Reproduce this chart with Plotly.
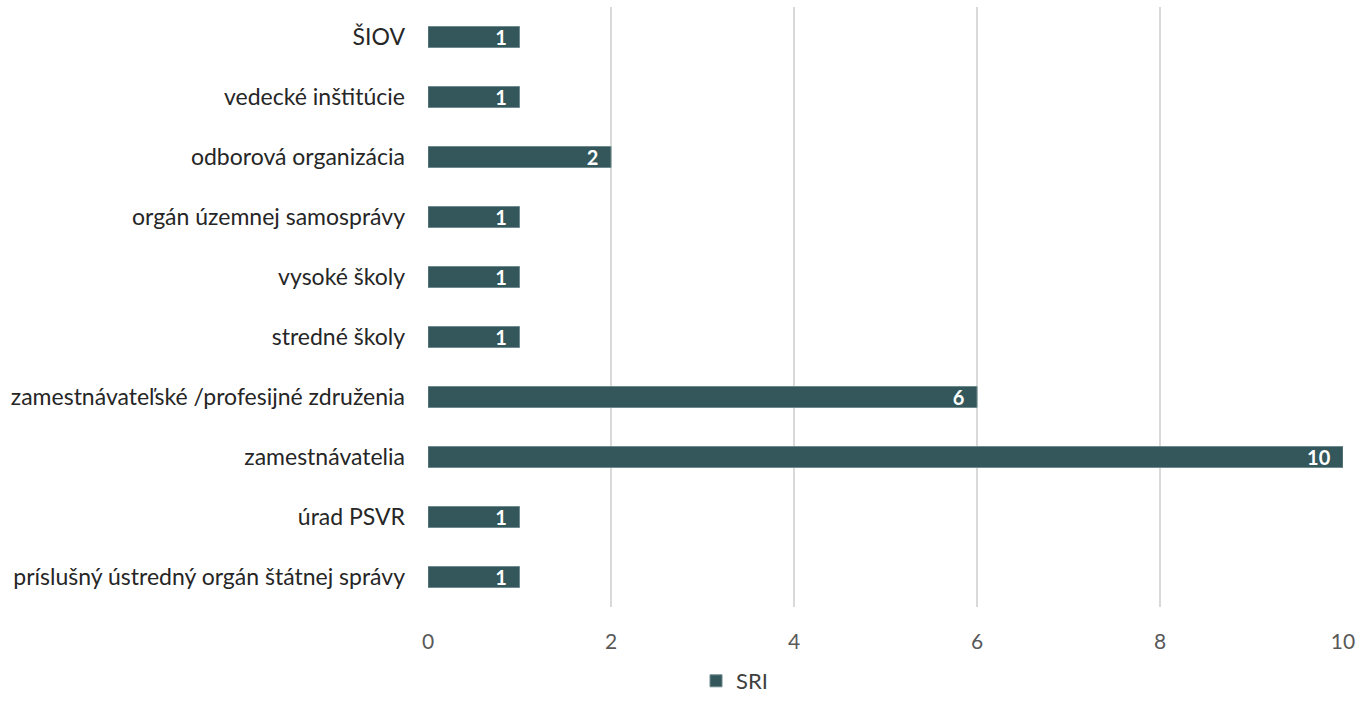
import plotly.graph_objects as go

categories = [
    "ŠIOV",
    "vedecké inštitúcie",
    "odborová organizácia",
    "orgán územnej samosprávy",
    "vysoké školy",
    "stredné školy",
    "zamestnávateľské /profesijné združenia",
    "zamestnávatelia",
    "úrad PSVR",
    "príslušný ústredný orgán štátnej správy",
]
sri_values = [1, 1, 2, 1, 1, 1, 6, 10, 1, 1]
x_ticks = [0, 2, 4, 6, 8, 10]

bar_color = "#34575C"
font_family = "Lato, 'Open Sans', sans-serif"

fig = go.Figure()
fig.add_trace(go.Bar(
    y=categories,
    x=sri_values,
    orientation="h",
    name="SRI",
    marker=dict(color=bar_color, line=dict(color="#6E8A8D", width=1)),
    # non-breaking spaces keep the value label away from the bar end
    text=[f"{v}\u00a0\u00a0" for v in sri_values],
    textposition="inside",
    insidetextanchor="end",
    textangle=0,
    constraintext="none",
    textfont=dict(color="white", size=20, family=font_family, weight="bold"),
    cliponaxis=False,
))

fig.update_layout(
    width=1361,
    height=702,
    margin=dict(l=428, r=18, t=7, b=95),
    paper_bgcolor="white",
    plot_bgcolor="white",
    bargap=0.65,
    font=dict(family=font_family, size=22, color="#404040"),
    showlegend=True,
    legend=dict(
        orientation="h",
        x=0.335,
        xanchor="center",
        yref="container",
        y=0.0,
        yanchor="bottom",
        font=dict(size=22, color="#404040"),
        itemwidth=30,
        bgcolor="rgba(0,0,0,0)",
    ),
    xaxis=dict(
        range=[0, 10],
        tickvals=x_ticks,
        showgrid=True,
        gridcolor="#D9D9D9",
        gridwidth=2,
        zeroline=False,
        showline=False,
        tickfont=dict(size=21, color="#595959"),
        ticklen=0,
        ticks="",
        ticklabelstandoff=20,
    ),
    yaxis=dict(
        autorange="reversed",
        categoryorder="array",
        categoryarray=categories,
        showgrid=False,
        zeroline=False,
        showline=False,
        ticks="",
        ticklabelstandoff=22,
        tickfont=dict(size=23, color="#262626"),
    ),
)

fig.write_html("out.html")
